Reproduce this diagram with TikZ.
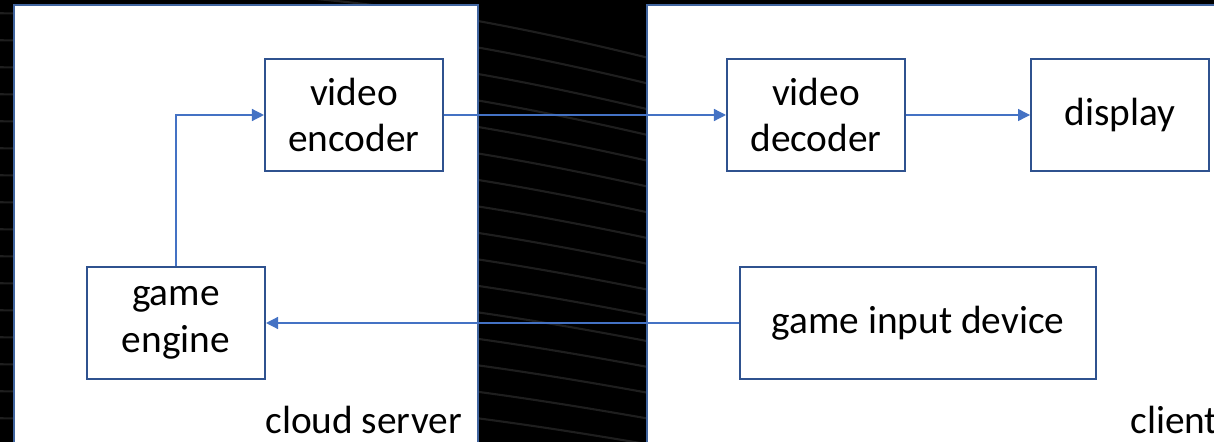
\documentclass[tikz,border=0pt]{standalone}
\usepackage{fontspec}
\setmainfont{Carlito}
\usetikzlibrary{arrows.meta,positioning}

\definecolor{boxblue}{HTML}{2F528F}
\definecolor{panelblue}{HTML}{41659F}
\definecolor{linkblue}{HTML}{4472C4}
\definecolor{streak}{HTML}{1E1E1E}

\begin{document}
\begin{tikzpicture}[
		x=0.02cm, y=-0.02cm,
		node distance=2.48cm,
		box/.style={rectangle, draw=boxblue, line width=1.2pt, fill=white, minimum width=3.56cm, minimum height=2.24cm, inner sep=0pt, align=center, font=\fontsize{22.4pt}{26.7pt}\selectfont},
		widebox/.style={box, minimum width=7.12cm},
		panel/.style={draw=panelblue, line width=1.4pt, fill=white},
		arrow/.style={-{Triangle[length=0.24cm, width=0.24cm]}, draw=linkblue, line width=0.75pt},
		caption/.style={anchor=base west, inner sep=0pt, font=\fontsize{22.4pt}{26.7pt}\selectfont}
		]
		\useasboundingbox (0,0) rectangle (1214,442);
		\clip (0,0) rectangle (1214,442);

		% dark backdrop with faint streaks
		\fill[black] (0,0) rectangle (1214,442);
		\foreach \i in {0,...,19}
			\draw[streak, line width=1.2pt] (-20,\i*27-14) .. controls (300,\i*27-10) and (420,\i*27-2) .. (720,\i*27+76-\i*1.6);

		% server and client panels
		\draw[panel] (14,5) rectangle (478,480);
		\draw[panel] (647,5) rectangle (1260,480);

		% server side
		\node[box] (encoder) at (354,115) {video\\encoder};
		\node[box] (engine) at (176,323) {game\\engine};

		% client side
		\node[box, right=5.64cm of encoder] (decoder) {video\\decoder};
		\node[box, right=of decoder] (display) {display};
		\node[widebox] (input) at (918,323) {game input device};

		% panel captions
		\node[caption] (serverlbl) at (265,433) {cloud server};
		\node[caption] (clientlbl) at (1130,433) {client};

		% links
		\draw[arrow] (engine.north) |- (encoder.west);
		\draw[arrow] (encoder.east) -- (decoder.west);
		\draw[arrow] (decoder.east) -- (display.west);
		\draw[arrow] (input.west) -- (engine.east);

	\end{tikzpicture}
\end{document}
